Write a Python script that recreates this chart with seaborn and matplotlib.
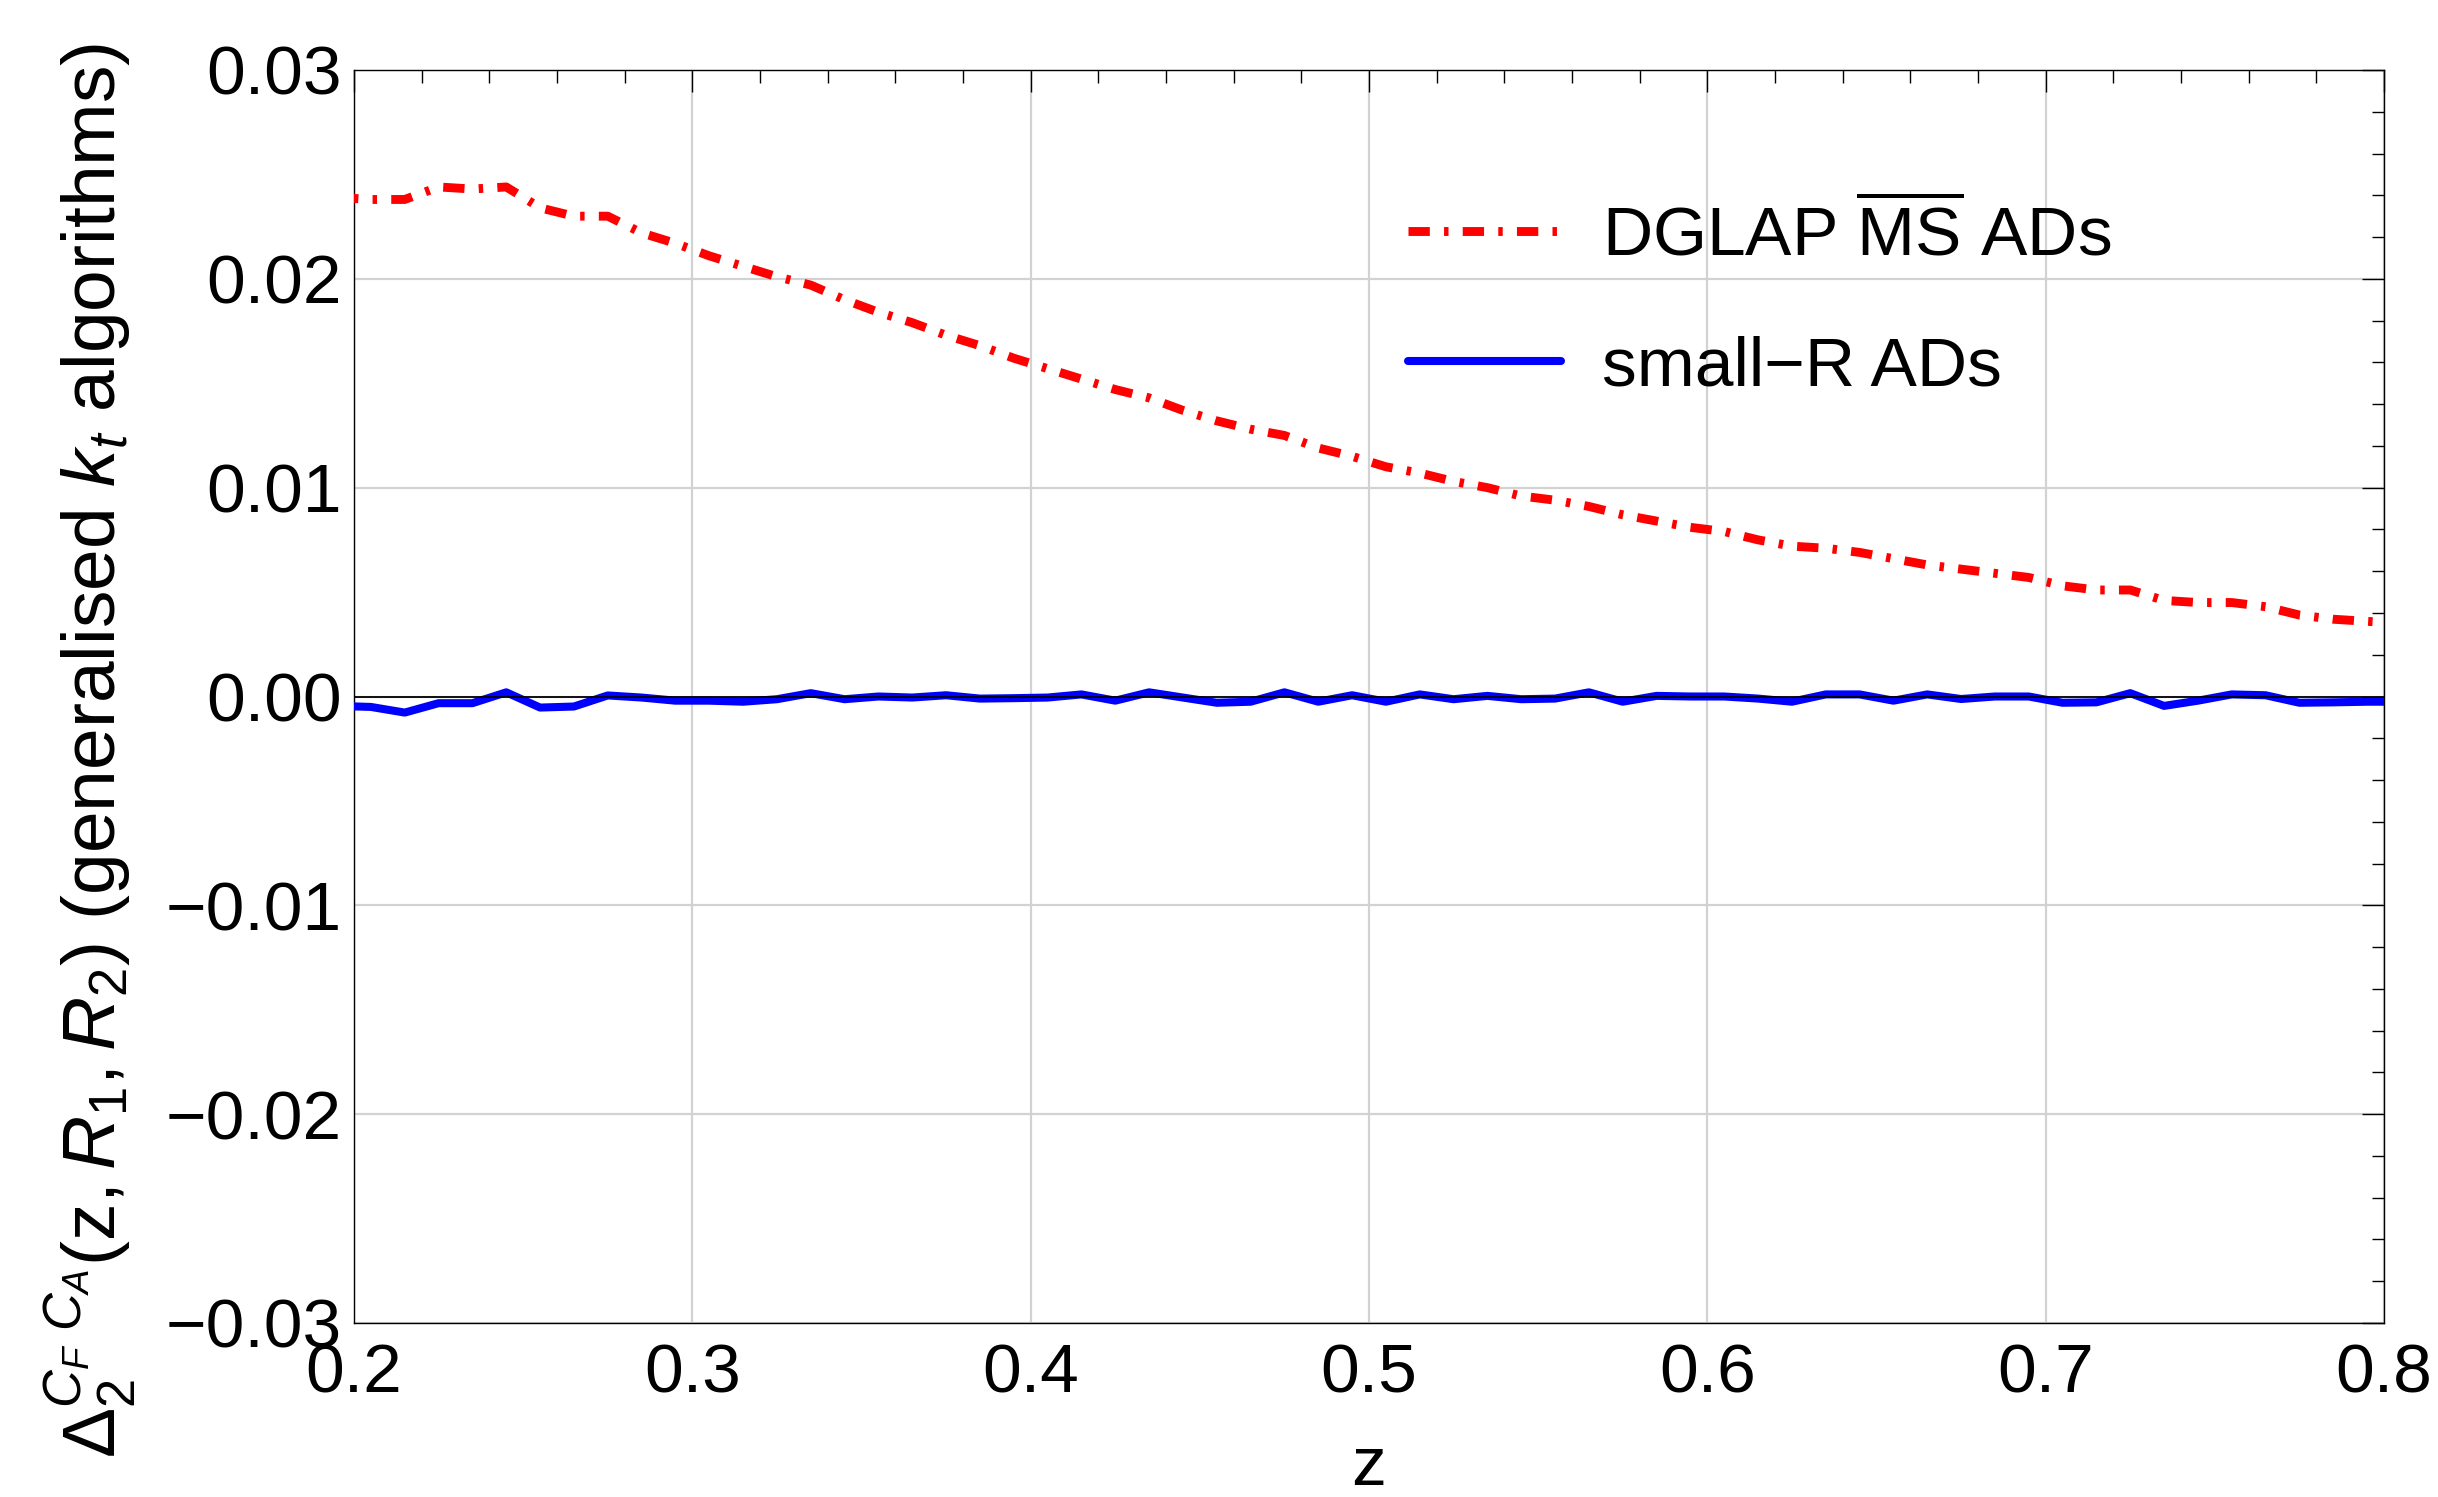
import numpy as np
import pandas as pd
import matplotlib
matplotlib.use("Agg")
import matplotlib.pyplot as plt
import seaborn as sns
from matplotlib.ticker import MultipleLocator, FuncFormatter

# ---- data ----
z = [round(0.195 + 0.01 * i, 3) for i in range(62)]

dglap_ms = [0.0239, 0.0238, 0.0238, 0.0244, 0.0243, 0.0244, 0.0234, 0.0230, 0.0230, 0.0222,
            0.0217, 0.0211, 0.0206, 0.0201, 0.0197, 0.0190, 0.0184, 0.0179, 0.0173, 0.0168,
            0.0162, 0.0157, 0.0152, 0.0147, 0.0143, 0.0137, 0.0132, 0.0128, 0.0125, 0.0119,
            0.0115, 0.0110, 0.0107, 0.0103, 0.0100, 0.0096, 0.0094, 0.0091, 0.0087, 0.0084,
            0.0081, 0.0079, 0.0075, 0.0072, 0.0071, 0.0069, 0.0066, 0.0063, 0.0061, 0.0059,
            0.0057, 0.0053, 0.0051, 0.0051, 0.0046, 0.0045, 0.0045, 0.0043, 0.0039, 0.0037,
            0.0036, 0.0035]

small_r = [-0.00045, -0.00050, -0.00077, -0.00032, -0.00032, 0.00020, -0.00053, -0.00048, 0.00005, -0.00005,
           -0.00020, -0.00020, -0.00025, -0.00013, 0.00016, -0.00013, 0.00000, -0.00005, 0.00006, -0.00010,
           -0.00008, -0.00005, 0.00010, -0.00020, 0.00020, -0.00005, -0.00030, -0.00025, 0.00020, -0.00025,
           0.00006, -0.00025, 0.00010, -0.00013, 0.00003, -0.00013, -0.00010, 0.00020, -0.00025, 0.00003,
           0.00000, 0.00000, -0.00010, -0.00025, 0.00010, 0.00010, -0.00020, 0.00010, -0.00012, 0.00000,
           0.00000, -0.00030, -0.00028, 0.00016, -0.00045, -0.00020, 0.00010, 0.00006, -0.00030, -0.00028,
           -0.00025, -0.00025]

labels = [r"DGLAP $\overline{\mathrm{MS}}$ ADs", "small\u2212R ADs"]
xlim = (0.2, 0.8)
ylim = (-0.03, 0.03)

# ---- style ----
sns.set_theme(style="white")
plt.rcParams["font.family"] = ["Liberation Sans", "DejaVu Sans"]
plt.rcParams["mathtext.fontset"] = "custom"
plt.rcParams["mathtext.rm"] = "Liberation Sans"
plt.rcParams["mathtext.it"] = "Liberation Sans:italic"
plt.rcParams["mathtext.bf"] = "Liberation Sans:bold"
plt.rcParams["mathtext.sf"] = "Liberation Sans"
plt.rcParams["axes.unicode_minus"] = True
for key in ["text.color", "axes.labelcolor", "xtick.color", "ytick.color", "axes.edgecolor"]:
    plt.rcParams[key] = "black"

FS = 50
W, H = 2438, 1497
fig = plt.figure(figsize=(W / 100, H / 100), dpi=100)
fig.patch.set_facecolor("white")
ax = fig.add_axes([354 / W, 1 - 1323 / H, (2384 - 354) / W, (1323 - 70) / H])
ax.set_facecolor("white")

df = pd.DataFrame({"z": z, "dglap": dglap_ms, "smallr": small_r})

sns.lineplot(data=df, x="z", y="dglap", ax=ax, color="#ff0000", lw=6.4,
             linestyle=(0, (2.4, 1.6, 0.5, 1.6)), label=labels[0], zorder=3)
sns.lineplot(data=df, x="z", y="smallr", ax=ax, color="#0000ff", lw=5.8,
             label=labels[1], zorder=3)

ax.axhline(0, color="black", lw=1.3, zorder=4)

ax.set_xlim(*xlim)
ax.set_ylim(*ylim)

ax.xaxis.set_major_locator(MultipleLocator(0.1))
ax.xaxis.set_minor_locator(MultipleLocator(0.02))
ax.yaxis.set_major_locator(MultipleLocator(0.01))
ax.yaxis.set_minor_locator(MultipleLocator(0.002))

def yfmt(v, _):
    s = f"{v:.2f}"
    if s == "-0.00":
        s = "0.00"
    return s.replace("-", "\u2212")

ax.yaxis.set_major_formatter(FuncFormatter(yfmt))
ax.xaxis.set_major_formatter(FuncFormatter(lambda v, _: f"{v:.1f}"))

ax.tick_params(axis="both", which="major", direction="in", length=16, width=1.0,
               labelsize=FS, top=True, right=True, color="black", labelcolor="black")
ax.tick_params(axis="both", which="minor", direction="in", length=9, width=1.0,
               top=True, right=True, color="black")
ax.tick_params(axis="x", which="major", pad=14)
ax.tick_params(axis="y", which="major", pad=9)

ax.grid(True, which="major", color="#d2d2d2", lw=1.6, zorder=0)
ax.set_axisbelow(True)

for sp in ax.spines.values():
    sp.set_color("black")
    sp.set_linewidth(1.0)
    sp.set_visible(True)

ax.set_xlabel("z", fontsize=FS, color="black")
ax.set_ylabel(r"$\Delta_2^{C_F\ C_A}(\mathrm{z},R_1,R_2)$ (generalised $k_t$ algorithms)",
              fontsize=54, color="black")
ax.xaxis.set_label_coords(0.5, -0.089)
ax.yaxis.set_label_coords(-0.106, 0.457)

leg = ax.legend(loc="upper left", bbox_to_anchor=(1408 / W, 1 - 200 / H),
                bbox_transform=fig.transFigure, frameon=False, fontsize=FS,
                handlelength=2.2, handletextpad=0.6, labelspacing=0.95,
                borderpad=0, borderaxespad=0)
for t in leg.get_texts():
    t.set_color("black")

fig.savefig("out.png", dpi=100, facecolor="white")
